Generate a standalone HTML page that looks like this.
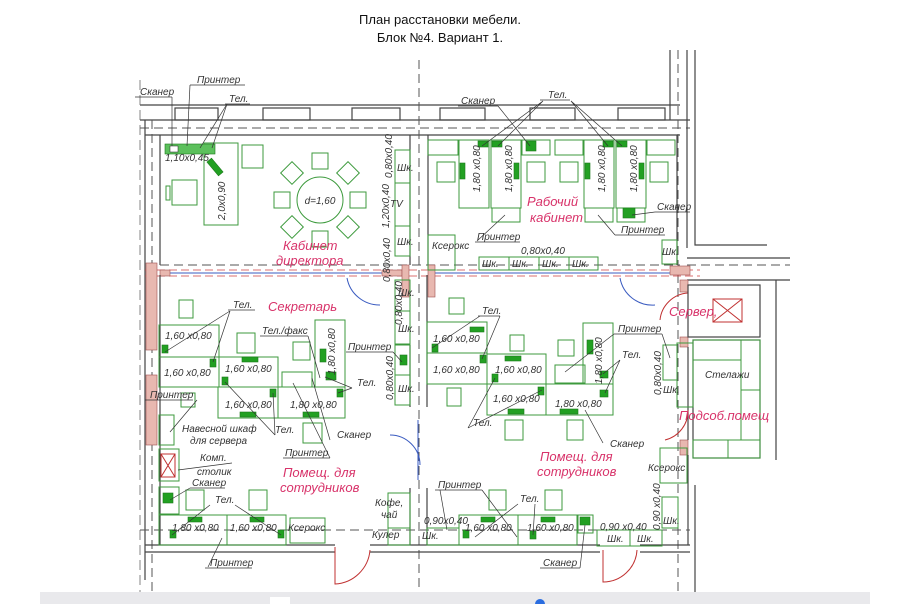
<!DOCTYPE html>
<html><head><meta charset="utf-8"><style>
html,body{margin:0;padding:0;background:#fff;width:900px;height:604px;overflow:hidden}
svg{display:block}
text{font-family:"Liberation Sans",sans-serif;font-style:italic;font-size:10px;fill:#333}
.r{fill:#d8336a;font-size:13px}
.g{fill:none;stroke:#3c9a3c;stroke-width:1}
.gf{fill:#22a022;stroke:#1c7a1c;stroke-width:.6}
.w{fill:none;stroke:#444;stroke-width:1.2}
.d{fill:none;stroke:#555;stroke-width:1;stroke-dasharray:9 5}
.rd{fill:none;stroke:#d04040;stroke-width:.8;stroke-dasharray:8 4}
.h{fill:#e8b8b0;stroke:#a05050;stroke-width:.6}
.l{stroke:#333;stroke-width:.7;fill:none}
.dr{fill:none;stroke:#c03030;stroke-width:1}
.db{fill:none;stroke:#3a5bc0;stroke-width:1}
</style></head><body>
<svg width="900" height="604" viewBox="0 0 900 604" xmlns="http://www.w3.org/2000/svg">
<text x="440" y="24" text-anchor="middle" style="font-style:normal;font-size:13px;fill:#111">План расстановки мебели.</text>
<text x="440" y="42" text-anchor="middle" style="font-style:normal;font-size:13px;fill:#111">Блок №4.  Вариант 1.</text>

<line x1="140" y1="105" x2="680" y2="105" class="w"/>
<line x1="140" y1="120" x2="690" y2="120" class="w"/>
<line x1="145" y1="135" x2="680" y2="135" class="w"/>
<line x1="140" y1="128" x2="690" y2="128" class="d"/>
<g class="w">
<rect x="175" y="108" width="43" height="12"/><rect x="263" y="108" width="47" height="12"/><rect x="352" y="108" width="48" height="12"/>
<rect x="440" y="108" width="45" height="12"/><rect x="530" y="108" width="45" height="12"/><rect x="618" y="108" width="47" height="12"/>
</g>
<line x1="145" y1="120" x2="145" y2="580" class="w"/>
<line x1="160" y1="135" x2="160" y2="265" class="w"/>
<line x1="152" y1="120" x2="152" y2="600" class="d"/>
<line x1="410" y1="135" x2="410" y2="265" class="w"/>
<line x1="428" y1="135" x2="428" y2="265" class="w"/>
<line x1="419" y1="60" x2="419" y2="600" class="d"/>
<line x1="677" y1="135" x2="677" y2="265" class="w"/>
<line x1="670" y1="50" x2="670" y2="120" class="w"/>
<line x1="687" y1="50" x2="687" y2="248" class="w"/>
<line x1="678" y1="50" x2="678" y2="600" class="d"/>
<polyline points="695,50 695,245 767,245" class="w"/>
<line x1="687" y1="258" x2="790" y2="258" class="w"/>
<line x1="687" y1="265" x2="790" y2="265" class="d"/>
<line x1="687" y1="280" x2="790" y2="280" class="w"/>
<line x1="776" y1="280" x2="776" y2="460" class="w"/>
<line x1="140" y1="80" x2="140" y2="600" style="stroke:#666;stroke-width:.8;stroke-dasharray:10 5"/>

<line x1="160" y1="265" x2="680" y2="265" class="d"/>
<line x1="145" y1="270" x2="700" y2="270" class="rd"/>
<line x1="145" y1="276" x2="700" y2="276" class="rd"/>
<line x1="165" y1="273" x2="395" y2="273" class="db"/><line x1="430" y1="273" x2="670" y2="273" class="db"/>
<rect x="146" y="263" width="11" height="87" class="h"/>
<rect x="146" y="375" width="11" height="70" class="h"/>
<rect x="160" y="270" width="10" height="6" class="h"/>
<rect x="382" y="270" width="20" height="6" class="h"/>
<rect x="402" y="265" width="7" height="32" class="h"/>
<rect x="428" y="265" width="7" height="32" class="h"/>
<rect x="670" y="266" width="20" height="9" class="h"/>
<rect x="680" y="280" width="8" height="12" class="h"/><rect x="680" y="337" width="8" height="10" class="h"/><rect x="680" y="440" width="8" height="15" class="h"/>
<line x1="160" y1="275" x2="160" y2="545" class="w"/>
<line x1="410" y1="345" x2="410" y2="407" class="w"/><line x1="427" y1="345" x2="427" y2="407" class="w"/>
<line x1="410" y1="488" x2="410" y2="545" class="w"/><line x1="427" y1="488" x2="427" y2="545" class="w"/>
<line x1="427" y1="275" x2="427" y2="345" class="w"/>
<line x1="688" y1="347" x2="688" y2="440" class="w"/><line x1="688" y1="455" x2="688" y2="545" class="w"/>
<line x1="695" y1="485" x2="695" y2="600" class="w"/>
<line x1="145" y1="545" x2="335" y2="545" class="w"/><line x1="370" y1="545" x2="600" y2="545" class="w"/><line x1="640" y1="545" x2="690" y2="545" class="w"/>
<line x1="145" y1="552" x2="335" y2="552" class="w"/><line x1="370" y1="552" x2="600" y2="552" class="w"/><line x1="640" y1="552" x2="690" y2="552" class="w"/>
<line x1="140" y1="530" x2="690" y2="530" class="d"/>
<path d="M335,547 L335,584 A37,37 0 0 0 370,550" class="dr"/>
<path d="M603,550 L603,582 A34,34 0 0 0 637,550" class="dr"/>
<path d="M347,278 A33,33 0 0 0 380,305" class="db"/>
<path d="M620,278 A33,33 0 0 0 655,305" class="db"/>
<path d="M390,435 A30,30 0 0 1 420,465" class="db"/>
<line x1="418" y1="420" x2="418" y2="480" class="db"/>
<path d="M688,293 A30,30 0 0 0 660,320" class="dr"/>
<path d="M688,410 A30,30 0 0 1 665,440" class="dr"/>
<rect x="688" y="285" width="72" height="52" class="w"/>
<rect x="713" y="299" width="29" height="23" class="dr"/><path d="M713,299L742,322M742,299L713,322" class="dr"/>
<rect x="693" y="340" width="67" height="118" class="w"/>
<g class="g"><rect x="693" y="340" width="48" height="20"/><rect x="741" y="340" width="19" height="50"/><rect x="741" y="390" width="19" height="50"/><rect x="693" y="440" width="35" height="18"/><rect x="728" y="440" width="32" height="18"/><rect x="677" y="343" width="16" height="64"/></g>

<g class="g">
<rect x="204" y="143" width="34" height="82"/>
<rect x="242" y="145" width="21" height="23"/>
<rect x="172" y="180" width="25" height="25"/><rect x="166" y="186" width="4" height="14"/>
<circle cx="320" cy="200" r="23"/>
<rect x="312" y="153" width="16" height="16"/><rect x="312" y="231" width="16" height="16"/>
<rect x="274" y="192" width="16" height="16"/><rect x="350" y="192" width="16" height="16"/>
<rect x="284" y="165" width="16" height="16" transform="rotate(45 292 173)"/><rect x="340" y="165" width="16" height="16" transform="rotate(45 348 173)"/>
<rect x="284" y="219" width="16" height="16" transform="rotate(45 292 227)"/><rect x="340" y="219" width="16" height="16" transform="rotate(45 348 227)"/>
<rect x="395" y="150" width="15" height="33"/><rect x="395" y="183" width="15" height="43"/><rect x="395" y="226" width="15" height="30"/>
</g>
<rect x="165" y="144" width="50" height="10" class="gf" style="fill:#5cc05c"/>
<rect x="170" y="146" width="8" height="6" fill="#fff" stroke="#222" stroke-width=".5"/>
<rect x="212" y="158" width="6" height="18" class="gf" transform="rotate(-40 215 167)"/>
<text x="320" y="204" text-anchor="middle">d=1,60</text>
<text x="165" y="161">1,10x0,45</text>
<text transform="translate(225,220) rotate(-90)">2,0x0,90</text>
<text x="397" y="171">Шк.</text><text x="390" y="207">TV</text><text x="397" y="245">Шк.</text>
<text transform="translate(392,178) rotate(-90)">0,80x0,40</text>
<text transform="translate(389,228) rotate(-90)">1,20x0,40</text>
<text transform="translate(390,282) rotate(-90)">0,80x0,40</text>
<text x="283" y="250" class="r">Кабинет</text><text x="276" y="265" class="r">директора</text>
<text x="140" y="95">Сканер</text><line x1="135" y1="97" x2="172" y2="97" class="l"/><line x1="172" y1="97" x2="172" y2="146" class="l"/>
<text x="197" y="83">Принтер</text><line x1="190" y1="85" x2="245" y2="85" class="l"/><line x1="190" y1="85" x2="187" y2="146" class="l"/>
<text x="229" y="102">Тел.</text><line x1="225" y1="104" x2="250" y2="104" class="l"/><line x1="227" y1="104" x2="200" y2="148" class="l"/><line x1="227" y1="104" x2="212" y2="148" class="l"/>

<g class="g">
<rect x="428" y="140" width="30" height="15"/><rect x="522" y="140" width="28" height="15"/><rect x="555" y="140" width="28" height="15"/><rect x="647" y="140" width="28" height="15"/>
<rect x="459" y="140" width="30" height="68"/><rect x="491" y="140" width="30" height="68"/><rect x="584" y="140" width="30" height="68"/><rect x="616" y="140" width="30" height="68"/>
<rect x="437" y="162" width="18" height="20"/><rect x="527" y="162" width="18" height="20"/><rect x="560" y="162" width="18" height="20"/><rect x="650" y="162" width="18" height="20"/>
<rect x="492" y="208" width="28" height="14"/><rect x="585" y="208" width="28" height="14"/><rect x="617" y="208" width="28" height="14"/>
<rect x="428" y="235" width="27" height="35"/><rect x="662" y="240" width="15" height="24"/>
<rect x="479" y="257" width="30" height="13"/><rect x="509" y="257" width="30" height="13"/><rect x="539" y="257" width="30" height="13"/><rect x="569" y="257" width="29" height="13"/>
</g>
<g class="gf"><rect x="460" y="163" width="5" height="16"/><rect x="514" y="163" width="5" height="16"/><rect x="585" y="163" width="5" height="16"/><rect x="639" y="163" width="5" height="16"/>
<rect x="478" y="141" width="10" height="6"/><rect x="492" y="141" width="10" height="6"/><rect x="603" y="141" width="10" height="6"/><rect x="617" y="141" width="10" height="6"/>
<rect x="526" y="141" width="10" height="10"/><rect x="623" y="208" width="12" height="10"/></g>
<text transform="translate(480,192) rotate(-90)">1,80 x0,80</text><text transform="translate(512,192) rotate(-90)">1,80 x0,80</text>
<text transform="translate(605,192) rotate(-90)">1,80 x0,80</text><text transform="translate(637,192) rotate(-90)">1,80 x0,80</text>
<text x="527" y="206" class="r">Рабочий</text><text x="530" y="222" class="r">кабинет</text>
<text x="461" y="104">Сканер</text><line x1="458" y1="106" x2="498" y2="106" class="l"/><line x1="498" y1="106" x2="530" y2="146" class="l"/>
<text x="548" y="98">Тел.</text><line x1="540" y1="100" x2="570" y2="100" class="l"/>
<path d="M543,101L482,146M543,101L498,146M571,101L608,146M571,101L622,146" class="l"/>
<text x="477" y="240">Принтер</text><line x1="475" y1="242" x2="520" y2="242" class="l"/><line x1="477" y1="241" x2="505" y2="215" class="l"/>
<text x="621" y="233">Принтер</text><line x1="615" y1="235" x2="665" y2="235" class="l"/><line x1="615" y1="235" x2="598" y2="215" class="l"/>
<text x="657" y="210">Сканер</text><line x1="655" y1="212" x2="690" y2="212" class="l"/><line x1="655" y1="212" x2="632" y2="215" class="l"/>
<text x="432" y="249">Ксерокс</text>
<text x="521" y="254">0,80x0,40</text>
<text x="482" y="267">Шк.</text><text x="512" y="267">Шк.</text><text x="542" y="267">Шк.</text><text x="572" y="267">Шк.</text><text x="662" y="255">Шк.</text>

<g class="g">
<rect x="159" y="325" width="60" height="32"/><rect x="159" y="357" width="60" height="30"/><rect x="219" y="357" width="59" height="30"/>
<rect x="218" y="387" width="60" height="31"/><rect x="278" y="387" width="67" height="31"/><rect x="315" y="320" width="30" height="67"/>
<rect x="179" y="300" width="14" height="18"/><rect x="237" y="333" width="18" height="20"/><rect x="293" y="342" width="17" height="18"/><rect x="303" y="423" width="19" height="20"/>
<rect x="181" y="393" width="14" height="14"/>
<rect x="282" y="372" width="30" height="15"/>
<rect x="159" y="415" width="15" height="30"/><rect x="159" y="449" width="20" height="32"/><rect x="159" y="487" width="20" height="27"/>
<rect x="159" y="515" width="68" height="30"/><rect x="227" y="515" width="59" height="30"/><rect x="290" y="518" width="35" height="25"/>
<rect x="186" y="490" width="18" height="20"/><rect x="249" y="490" width="18" height="20"/>
<rect x="395" y="280" width="15" height="31"/><rect x="395" y="311" width="15" height="33"/><rect x="395" y="345" width="15" height="30"/><rect x="395" y="375" width="15" height="30"/>
<rect x="388" y="493" width="22" height="35"/><rect x="388" y="528" width="22" height="17"/>
</g>
<rect x="161" y="454" width="14" height="23" class="dr"/><path d="M161,454L175,477M175,454L161,477" class="dr"/>
<g class="gf"><rect x="162" y="345" width="6" height="8"/><rect x="210" y="359" width="6" height="8"/><rect x="222" y="377" width="6" height="8"/><rect x="242" y="357" width="16" height="5"/>
<rect x="240" y="412" width="16" height="5"/><rect x="303" y="412" width="16" height="5"/>
<rect x="270" y="389" width="6" height="8"/><rect x="337" y="389" width="6" height="8"/><rect x="320" y="349" width="6" height="13"/><rect x="326" y="372" width="10" height="8"/>
<rect x="163" y="493" width="10" height="10"/><rect x="188" y="517" width="14" height="5"/><rect x="250" y="517" width="14" height="5"/><rect x="170" y="530" width="6" height="8"/><rect x="278" y="530" width="6" height="8"/>
<rect x="400" y="355" width="7" height="10"/></g>
<text x="165" y="339">1,60 x0,80</text><text x="164" y="376">1,60 x0,80</text><text x="225" y="372">1,60 x0,80</text>
<text x="225" y="408">1,60 x0,80</text><text x="290" y="408">1,80 x0,80</text>
<text transform="translate(335,375) rotate(-90)">1,80 x0,80</text>
<text x="233" y="308">Тел.</text><line x1="228" y1="310" x2="255" y2="310" class="l"/><path d="M230,311L165,352M230,311L213,362" class="l"/>
<text x="268" y="311" class="r">Секретарь</text>
<text x="262" y="334">Тел./факс</text><line x1="260" y1="336" x2="308" y2="336" class="l"/><line x1="308" y1="336" x2="320" y2="378" class="l"/>
<text x="348" y="350">Принтер</text><line x1="346" y1="352" x2="393" y2="352" class="l"/><line x1="393" y1="352" x2="402" y2="362" class="l"/>
<text x="357" y="386">Тел.</text><path d="M352,388L325,377M352,388L338,393" class="l"/>
<text x="150" y="398">Принтер</text><line x1="145" y1="400" x2="193" y2="400" class="l"/><line x1="197" y1="400" x2="170" y2="432" class="l"/>
<text x="182" y="432">Навесной шкаф</text><text x="190" y="444">для сервера</text>
<text x="275" y="433">Тел.</text><path d="M275,435L225,382M275,435L273,393" class="l"/>
<text x="337" y="438">Сканер</text><line x1="330" y1="440" x2="312" y2="378" class="l"/>
<text x="285" y="456">Принтер</text><line x1="283" y1="458" x2="330" y2="458" class="l"/><line x1="330" y1="458" x2="293" y2="383" class="l"/>
<text x="200" y="461">Комп.</text><text x="197" y="475">столик</text><line x1="178" y1="470" x2="232" y2="463" class="l"/>
<text x="283" y="477" class="r">Помещ. для</text><text x="280" y="492" class="r">сотрудников</text>
<text x="192" y="486">Сканер</text><line x1="190" y1="488" x2="225" y2="488" class="l"/><line x1="190" y1="488" x2="170" y2="500" class="l"/>
<text x="215" y="503">Тел.</text><path d="M210,505L172,535M235,505L281,535" class="l"/>
<text x="172" y="531">1,80 x0,80</text><text x="230" y="531">1,60 x0,80</text><text x="288" y="531">Ксерокс</text>
<text x="210" y="566">Принтер</text><line x1="205" y1="568" x2="252" y2="568" class="l"/><line x1="208" y1="567" x2="222" y2="538" class="l"/>
<text x="375" y="506">Кофе,</text><text x="381" y="518">чай</text><text x="372" y="538">Кулер</text>
<text x="398" y="296">Шк.</text><text x="398" y="332">Шк.</text><text x="398" y="392">Шк.</text>
<text transform="translate(402,325) rotate(-90)">0,80x0,40</text>
<text transform="translate(393,400) rotate(-90)">0,80x0,40</text>

<g class="g">
<rect x="427" y="322" width="60" height="31"/><rect x="427" y="353" width="60" height="31"/><rect x="487" y="354" width="59" height="30"/>
<rect x="487" y="384" width="59" height="31"/><rect x="546" y="384" width="67" height="31"/><rect x="583" y="323" width="30" height="61"/>
<rect x="449" y="298" width="15" height="16"/><rect x="510" y="335" width="14" height="16"/><rect x="558" y="340" width="16" height="16"/>
<rect x="447" y="388" width="14" height="18"/><rect x="505" y="420" width="18" height="20"/><rect x="567" y="420" width="16" height="20"/>
<rect x="555" y="365" width="30" height="18"/>
<rect x="459" y="515" width="59" height="30"/><rect x="518" y="515" width="59" height="30"/><rect x="578" y="515" width="15" height="18"/>
<rect x="489" y="490" width="17" height="20"/><rect x="545" y="490" width="17" height="20"/>
<rect x="427" y="528" width="32" height="17"/><rect x="597" y="530" width="33" height="16"/><rect x="630" y="530" width="32" height="16"/><rect x="662" y="497" width="16" height="31"/>
<rect x="660" y="448" width="27" height="35"/><rect x="663" y="345" width="14" height="35"/>
</g>
<g class="gf"><rect x="432" y="344" width="6" height="8"/><rect x="480" y="355" width="6" height="8"/><rect x="492" y="374" width="6" height="8"/><rect x="505" y="356" width="16" height="5"/>
<rect x="508" y="409" width="16" height="5"/><rect x="560" y="409" width="18" height="5"/><rect x="538" y="387" width="6" height="8"/><rect x="587" y="340" width="6" height="14"/>
<rect x="600" y="371" width="8" height="7"/><rect x="600" y="390" width="8" height="7"/><rect x="463" y="530" width="6" height="8"/><rect x="530" y="531" width="6" height="8"/>
<rect x="481" y="517" width="14" height="5"/><rect x="541" y="517" width="14" height="5"/><rect x="580" y="517" width="10" height="8"/><rect x="470" y="327" width="14" height="5"/></g>
<text x="433" y="342">1,60 x0,80</text><text x="433" y="373">1,60 x0,80</text><text x="495" y="373">1,60 x0,80</text>
<text x="493" y="402">1,60 x0,80</text><text x="555" y="407">1,80 x0,80</text>
<text transform="translate(602,384) rotate(-90)">1,80 x0,80</text>
<text x="482" y="314">Тел.</text><line x1="478" y1="316" x2="500" y2="316" class="l"/><path d="M480,316L432,348M500,316L482,359" class="l"/>
<text x="618" y="332">Принтер</text><line x1="614" y1="334" x2="662" y2="334" class="l"/><path d="M614,334L565,372M662,334L670,358" class="l"/>
<text x="622" y="358">Тел.</text><path d="M620,360L603,374M620,360L605,393" class="l"/>
<text x="705" y="378">Стелажи</text>
<text x="679" y="420" class="r">Подсоб.помещ</text>
<text x="669" y="316" class="r">Сервер,</text>
<text x="473" y="426">Тел.</text><path d="M468,428L495,378M468,428L542,390" class="l"/>
<text x="610" y="447">Сканер</text><line x1="603" y1="443" x2="585" y2="410" class="l"/>
<text x="540" y="461" class="r">Помещ. для</text><text x="537" y="476" class="r">сотрудников</text>
<text x="648" y="471">Ксерокс</text>
<text x="438" y="488">Принтер</text><line x1="435" y1="490" x2="482" y2="490" class="l"/><path d="M440,490L447,530M482,490L517,537" class="l"/>
<text x="520" y="502">Тел.</text><path d="M518,504L475,537M535,504L533,535" class="l"/>
<text x="424" y="524">0,90x0,40</text><text x="465" y="531">1,60 x0,80</text><text x="527" y="531">1,60 x0,80</text><text x="600" y="530">0,90 x0,40</text>
<text x="422" y="539">Шк.</text><text x="607" y="542">Шк.</text><text x="637" y="542">Шк.</text><text x="663" y="524">Шк.</text><text x="663" y="393">Шк.</text>
<text transform="translate(661,395) rotate(-90)">0,80x0,40</text>
<text transform="translate(660,530) rotate(-90)">0,90 x0,40</text>
<text x="543" y="566">Сканер</text><line x1="540" y1="568" x2="580" y2="568" class="l"/><line x1="580" y1="568" x2="585" y2="525" class="l"/>

<rect x="40" y="592" width="830" height="12" fill="#e9e9ec"/>
<rect x="270" y="597" width="20" height="7" fill="#fff"/>
<circle cx="540" cy="604" r="5" fill="#2a6de0"/>
</svg>
</body></html>
